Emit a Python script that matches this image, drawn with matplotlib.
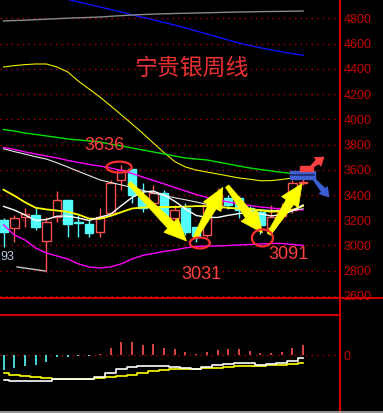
import numpy as np
import matplotlib
matplotlib.use("Agg")
import matplotlib.pyplot as plt
from matplotlib.patches import Polygon, Ellipse, Rectangle
from matplotlib.lines import Line2D

# ---------------------------------------------------------------------
# weekly candles
# ---------------------------------------------------------------------
opens  = [3202, 3139, 3226, 3242, 3036, 3226, 3361, 3186, 3171, 3107,
          3258, 3519, 3606, 3384, 3337, 3416, 3218, 3297, 3147, 3084,
          3300, 3377, 3377, 3297, 3266, 3139, 3230, 3282, 3495]
highs  = [3218, 3242, 3297, 3305, 3226, 3432, 3361, 3242, 3203, 3297,
          3519, 3636, 3610, 3495, 3479, 3440, 3321, 3337, 3147, 3330,
          3456, 3400, 3390, 3310, 3280, 3321, 3340, 3519, 3535]
lows   = [2988, 3028, 3147, 3123, 2793, 3186, 3068, 3068, 3068, 3068,
          3258, 3440, 3337, 3266, 3337, 3178, 3178, 3084, 3031, 3068,
          3280, 3290, 3218, 3203, 3091, 3130, 3210, 3260, 3479]
closes = [3107, 3218, 3250, 3147, 3186, 3361, 3171, 3178, 3100, 3226,
          3495, 3598, 3400, 3297, 3416, 3203, 3282, 3107, 3076, 3321,
          3400, 3321, 3282, 3226, 3163, 3226, 3300, 3495, 3503]

# moving averages / bands
ma_white_fast = [3310, 3281, 3242, 3198, 3206, 3232, 3233, 3218, 3198, 3224,
                 3247, 3315, 3380, 3423, 3431, 3399, 3351, 3290, 3238, 3223,
                 3222, 3239, 3253, 3263, 3252, 3234, 3244, 3274, 3321]
ma_yellow     = [3442, 3395, 3343, 3299, 3286, 3277, 3266, 3245, 3213, 3211,
                 3234, 3264, 3293, 3301, 3304, 3305, 3305, 3308, 3312, 3312,
                 3308, 3298, 3293, 3289, 3279, 3268, 3272, 3282, 3313]
ma_white_slow = [3766, 3744, 3724, 3703, 3685, 3655, 3622, 3587, 3554, 3520,
                 3499, 3480, 3460, 3437, 3416, 3397, 3378, 3362, 3345, 3327,
                 3313, 3298, 3289, 3284, 3282, 3278, 3276, 3278, 3291]
boll_up  = [3777, 3761, 3741, 3725, 3709, 3693, 3674, 3658, 3642, 3630,
            3614, 3594, 3571, 3543, 3515, 3488, 3460, 3432, 3404, 3381,
            3361, 3345, 3329, 3317, 3305, 3297, 3289, 3286, 3282]
boll_low = [3163, 3084, 3044, 2980, 2941, 2917, 2893, 2854, 2830, 2822,
            2830, 2854, 2893, 2921, 2937, 2953, 2965, 2981, 2992, 2996,
            2996, 3000, 3004, 3008, 3012, 3016, 3016, 3008, 3000]
ma_green = [3919, 3907, 3891, 3880, 3868, 3856, 3844, 3836, 3828, 3820,
            3804, 3789, 3773, 3757, 3741, 3725, 3709, 3693, 3685, 3678,
            3662, 3646, 3630, 3614, 3602, 3591, 3579, 3571, 3567]
ma_yellow_long = [4414, 4425, 4433, 4438, 4438, 4414, 4375, 4302, 4240, 4177,
                  4107, 4036, 3964, 3890, 3812, 3736, 3665, 3622, 3598, 3582,
                  3567, 3551, 3535, 3525, 3513, 3514, 3523, 3535, 3545]
ma_grey = [4779, 4782, 4785, 4789, 4793, 4797, 4801, 4804, 4807, 4810,
           4816, 4821, 4826, 4830, 4833, 4836, 4838, 4840, 4842, 4844,
           4846, 4848, 4850, 4851, 4853, 4854, 4855, 4856, 4858]
ma_blue = [5070, 5050, 5030, 5010, 4990, 4970, 4950, 4930, 4910, 4890,
           4870, 4850, 4828, 4808, 4788, 4767, 4746, 4724, 4700, 4676,
           4652, 4628, 4604, 4585, 4567, 4550, 4534, 4520, 4507]

# MACD panel
macd_hist = [-75, -65, -55, -50, -35, -10, -10, -5, -5, 5,
             35, 66, 66, 50, 55, 36, 30, 16, 5, 16,
             25, 30, 30, 20, 12, 12, 16, 36, 50]
dif = [-126, -128, -128, -128, -128, -122, -122, -122, -118, -108,
       -88, -72, -60, -57, -56, -57, -58, -63, -68, -59,
       -51, -44, -42, -42, -48, -44, -38, -29, -17]
dea = [-88, -98, -104, -110, -115, -118, -119, -119, -118, -114,
       -108, -103, -98, -89, -80, -75, -72, -70, -69, -67,
       -64, -60, -57, -57, -55, -52, -49, -45, -40]

price_ticks = list(range(2600, 4801, 200))

RED_UP   = "#ff5050"
CYAN_DN  = "#54fcfc"
AXIS_RED = "#d00000"
GRID_RED = "#b00000"

x = np.arange(len(opens))

W, H = 383, 413
fig = plt.figure(figsize=(W / 100, H / 100), dpi=100, facecolor="black")

ax = fig.add_axes([0, (H - 298) / H, 340 / W, 298 / H], facecolor="black")
ax2 = fig.add_axes([0, 1.3 / H, 340 / W, (411.7 - 315) / H], facecolor="black")

for a in (ax, ax2):
    a.set_xlim(-0.33, 31.45)
    for s in ("left", "top", "bottom"):
        a.spines[s].set_visible(False)
    a.spines["right"].set_color(AXIS_RED)
    a.spines["right"].set_linewidth(1.5)
    a.set_xticks([])
    a.yaxis.tick_right()
    a.tick_params(axis="y", length=0, pad=2.5, labelsize=9,
                  labelcolor="#c80000")

ax.set_ylim(2584, 4945)
ax.set_yticks(price_ticks)
ax.set_yticklabels([str(t) for t in price_ticks], family="Liberation Sans")
for t in price_ticks:
    ax.axhline(t, color=GRID_RED, lw=1.0, ls=(0, (1, 3)), zorder=0)

ax2.set_ylim(-283, 200)
ax2.set_yticks([0])
ax2.set_yticklabels(["0"], family="Liberation Sans")
ax2.spines["top"].set_visible(True)
ax2.spines["top"].set_color(AXIS_RED)
ax2.spines["top"].set_linewidth(1.5)
ax2.axhline(0, color=GRID_RED, lw=1.0, ls=(0, (1, 3)), zorder=0)

# ---------------------------------------------------------------------
# candles
# ---------------------------------------------------------------------
for i in x:
    o, h, l, c = opens[i], highs[i], lows[i], closes[i]
    up = c >= o
    col = RED_UP if up else CYAN_DN
    ax.vlines(i, l, h, color=col, lw=1.0, zorder=2)
    bot = min(o, c)
    ht = max(abs(c - o), 6)
    ax.add_patch(Rectangle((i - 0.4, bot), 0.8, ht,
                           facecolor="black" if up else col,
                           edgecolor=col, lw=1.0, zorder=3))

# lines over candles
ax.plot(x, ma_blue, color="#1010ff", lw=1.0, zorder=4)
ax.plot(x, ma_grey, color="#8a8a8a", lw=1.0, zorder=4)
ax.plot(x, ma_yellow_long, color="#f0f000", lw=0.8, zorder=4)
ax.plot(x, ma_green, color="#00e000", lw=1.0, zorder=4)
ax.plot(x, boll_up, color="#ff00ff", lw=1.0, zorder=4)
ax.plot(x, boll_low, color="#ff00ff", lw=1.0, zorder=4)
ax.plot(x, ma_white_slow, color="#e8e8e8", lw=0.8, zorder=4)
ax.plot(x, ma_yellow, color="#ffff00", lw=1.3, zorder=4)
ax.plot(x, ma_white_fast, color="white", lw=1.0, zorder=4)

# low label on the left edge (only the tail of it shows)
ax.plot([1.26, 3.88], [2830, 2798], color="#c8c8c8", lw=1.0, zorder=4)
ax.text(-0.3, 2905, "93", color="#b8c8e0", fontsize=9, ha="left",
        va="center", family="Liberation Sans", zorder=5)

# title and price notes
ax.text(17.57, 4406, "宁贵银周线", color="#e83030", fontsize=16.5,
        ha="center", va="center", family=["Noto Sans CJK SC", "DejaVu Sans"])
note_style = dict(color="#ff4040", fontsize=13, ha="center", va="center",
                  family="Liberation Sans", zorder=7)
ax.text(9.39, 3796, "3636", **note_style)
ax.text(18.46, 2774, "3031", **note_style)
ax.text(26.59, 2925, "3091", **note_style)


def px(pt):
    return ax.transData.transform(pt)


def fat_arrow(tail, tip, color, w_tail=4, w_neck=9, w_head=20, head_len=22):
    t, p = px(tail), px(tip)
    d = p - t
    u = d / np.hypot(*d)
    n = np.array([-u[1], u[0]])
    neck = p - u * head_len
    pts = [t + n * w_tail / 2, neck + n * w_neck / 2, neck + n * w_head / 2, p,
           neck - n * w_head / 2, neck - n * w_neck / 2, t - n * w_tail / 2]
    ax.add_patch(Polygon(pts, closed=True, transform=None, fc=color,
                         ec=color, lw=0.5, zorder=6))


def ring(center, w, h):
    ax.add_patch(Ellipse(px(center), w, h, transform=None, fill=False,
                         ec="#ff3030", lw=1.6, zorder=7))


# yellow arrows (index, price)
fat_arrow((11.75, 3495), (17.1, 3036), "#ffff00")
fat_arrow((17.9, 3060), (20.5, 3460), "#ffff00")
fat_arrow((20.9, 3470), (24.2, 3100), "#ffff00")
fat_arrow((24.8, 3090), (27.9, 3490), "#ffff00")

ring((10.8, 3621), 25, 11)
ring((18.35, 3020), 20, 11)
ring((24.2, 3060), 21, 17)

# signal box on the last candle
ax.add_patch(Rectangle((26.78, 3527), 2.33, 63, fc="#4060d0", ec="#4060d0",
                       zorder=6))
ax.plot([26.9, 29.0], [3559, 3559], color="#1a2a6c", lw=1.2, zorder=6)
ax.add_patch(Rectangle((27.7, 3590), 1.23, 40, fc="#ff4040", ec="#ff4040",
                       zorder=6))
fat_arrow((28.74, 3622), (29.95, 3701), "#ff4040", w_tail=2, w_neck=5,
          w_head=11, head_len=8)
fat_arrow((28.93, 3535), (30.42, 3384), "#3a60d8", w_tail=2, w_neck=5,
          w_head=11, head_len=9)

# ---------------------------------------------------------------------
# MACD panel
# ---------------------------------------------------------------------
bar_cols = [RED_UP if v > 0 else CYAN_DN for v in macd_hist]
ax2.vlines(x, 0, macd_hist, colors=bar_cols, lw=1.2, zorder=2)
ax2.plot(x, dea, color="#ffff00", lw=1.2, drawstyle="steps-mid", zorder=3)
ax2.plot(x, dif, color="white", lw=1.2, drawstyle="steps-mid", zorder=3)

# frame lines across the figure
fig.add_artist(Line2D([0, 1], [(H - 298) / H] * 2, color=AXIS_RED, lw=1.5,
                      transform=fig.transFigure))
fig.add_artist(Line2D([340 / W] * 2, [0, 1], color=AXIS_RED, lw=1.5,
                      transform=fig.transFigure))
fig.add_artist(Line2D([0, 1], [0.6 / H] * 2, color="#b0b0b0", lw=1.2,
                      transform=fig.transFigure))

fig.savefig("out.png", dpi=100, facecolor="black")
